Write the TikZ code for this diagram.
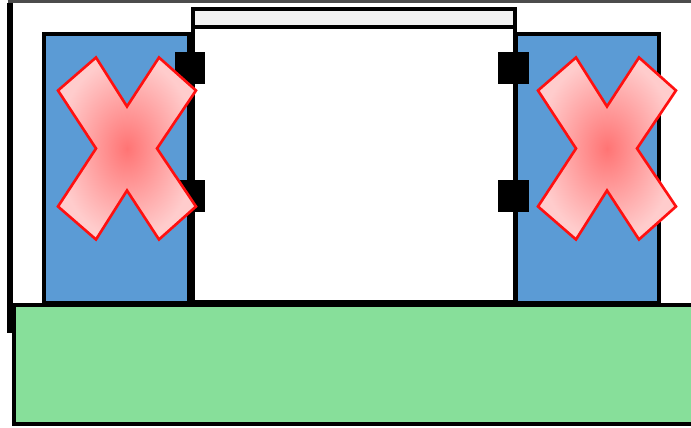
\documentclass[tikz,border=0pt]{standalone}
\usepackage{tikz}
\usetikzlibrary{positioning,calc}

\definecolor{blockblue}{HTML}{5B9BD5}
\definecolor{basegreen}{HTML}{87DF9A}
\definecolor{barfill}{HTML}{F2F2F2}
\definecolor{crossred}{HTML}{FF1010}
\definecolor{crossin}{HTML}{FF7474}
\definecolor{crossout}{HTML}{FFCCCC}

% cross mark around a centre
\newcommand{\crossmark}[2]{%
  \draw[cross] ($(#1)+(-69,-58)$) -- ($(#1)+(-31,-91)$) -- ($(#1)+(0,-42)$)
    -- ($(#1)+(32,-91)$) -- ($(#1)+(69,-58)$) -- ($(#1)+(30,0)$)
    -- ($(#1)+(69,58)$) -- ($(#1)+(32,91)$) -- ($(#1)+(0,42)$)
    -- ($(#1)+(-31,91)$) -- ($(#1)+(-69,58)$) -- ($(#1)+(-31,0)$) -- cycle;
  \coordinate (#2) at (#1);}

\begin{document}
\begin{tikzpicture}[
    x=0.02cm, y=-0.02cm,
    block/.style={draw=black, line width=2.2pt, fill=blockblue},
    frame/.style={draw=black, line width=2.2pt, fill=white},
    base/.style={draw=black, line width=2.2pt, fill=basegreen},
    pin/.style={fill=black},
    cross/.style={draw=crossred, line width=1.5pt, inner color=crossin, outer color=crossout, line join=miter}
  ]
  \useasboundingbox (0,0) rectangle (691,428);

  % outer housing
  \draw[draw=black!70, line width=1.8pt] (8,1.5) -- (694,1.5);
  \draw[line width=3pt] (10,3) -- (10,333);

  % side blocks
  \draw[block] (44,34) rectangle (189,303);
  \draw[block] (516,34) rectangle (659,303);

  % centre box with top bar
  \draw[frame] (193,9) rectangle (515,302);
  \draw[line width=2.2pt, fill=barfill] (193,9) rectangle (515,27);

  % base
  \draw[base] (14,305) rectangle (696,424);

  % hinges
  \fill[pin] (175,52) rectangle (205,84);
  \fill[pin] (175,180) rectangle (205,212);
  \fill[pin] (498,52) rectangle (529,84);
  \fill[pin] (498,180) rectangle (529,212);

  % crosses
  \coordinate (lc) at (127,148.5);
  \coordinate (rc) at (607,148.5);
  \crossmark{lc}{leftx}
  \crossmark{rc}{rightx}
\end{tikzpicture}
\end{document}
